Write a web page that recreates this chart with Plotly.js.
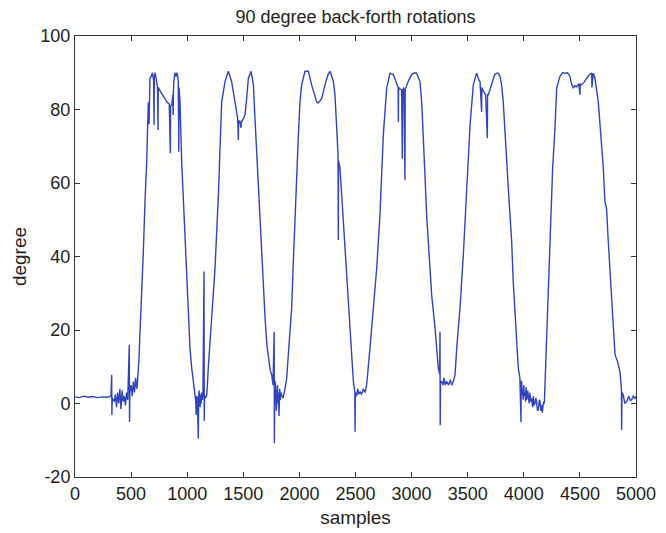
<!DOCTYPE html>
<html>
<head>
<meta charset="utf-8">
<script src="https://cdn.plot.ly/plotly-3.0.1.min.js"></script>
<style>
html,body{margin:0;padding:0;background:#fff;}
#chart{width:666px;height:533px;}
</style>
</head>
<body>
<div id="chart"></div>
<script>
var chartTitle = "90 degree back-forth rotations";
var xLabel = "samples";
var yLabel = "degree";
var xTicks = [0, 500, 1000, 1500, 2000, 2500, 3000, 3500, 4000, 4500, 5000];
var yTicks = [-20, 0, 20, 40, 60, 80, 100];

var samples = [
0,40,80,120,160,200,240,280,320,327,329,332,350,360,370,380,390,400,410,420,430,440,450,460,470,484,486,489,
500,510,520,530,540,550,555,570,580,594,609,624,632,639,647,654,660,662,668,680,690,700,705,707,715,725,735,740,742,
760,780,800,820,840,850,852,862,872,875,877,882,890,900,910,920,925,928,936,951,966,980,995,1010,1025,1040,1055,1065,
1075,1080,1083,1090,1099,1102,1106,1110,1115,1120,1125,1130,1135,1140,1150,1152,1155,1165,1175,1188,1200,1218,1248,1278,1307,
1337,1367,1396,1426,1450,1456,1458,1470,1480,1482,1486,1500,1515,1530,1545,1569,1590,1604,1619,1634,1649,1664,1679,1694,1710,1723,1740,1753,1765,1775,1777,
1780,1785,1790,1795,1800,1805,1810,1814,1818,1820,1825,1830,1836,1842,1855,1872,1887,1901,1931,1946,1961,1976,1991,2005,2020,2050,2080,2109,2139,2155,2169,2185,2199,2228,2255,2273,2290,2303,2317,2332,2344,2347,2349,2362,2392,2421,2451,2466,2481,2494,2496,2499,2510,2520,2530,2540,2555,2570,2585,2599,2629,2659,2689,2718,2748,2778,2807,2837,2867,2880,2882,2884,2900,2911,2917,2919,2930,2941,2943,2956,2975,3001,3025,3045,3075,3090,3105,3119,3134,3155,3179,3209,3238,3250,3253,3255,3258,3268,3280,3290,3300,3312,3330,3345,3357,3372,3387,3402,3431,3461,3491,3521,3550,3580,3600,3610,3624,3626,3639,3660,3675,3677,3684,3700,3714,3740,3758,3773,3788,3802,3817,3832,3847,3862,3877,3892,3906,3921,3936,3951,3965,3975,3977,
3981,3985,3990,3995,4000,4005,4010,4015,4020,4025,4030,4035,4040,4048,4055,4062,4070,4078,4085,4092,4100,4107,4114,4122,4130,4138,4145,4152,4159,4165,4170,4177,4183,
4195,4209,4224,4239,4257,4278,4293,4322,4345,4367,4390,4411,4425,4441,4455,4471,4490,4501,4503,4515,4540,4560,4585,4605,4607,4620,4634,4664,4679,4694,4709,4723,4738,4753,4768,4783,4798,4813,4836,4857,4870,4872,4875,4887,4900,4917,4935,4950,4961,4975,4991,5000
];
var degrees = [
1.8,1.6,2.0,1.7,1.9,1.6,1.8,1.7,1.9,7.8,-3.1,1.5,0.5,2.5,-1,3,0,4,-1.5,3.5,0.5,2,-0.5,3,1,15.9,-5,3,
5,2,6,3,7,4,5,12,20,29.5,41.3,55,60,65.8,75,82,76,84,88.5,89,90,88,75.8,89,90,88,86,74.4,86,
85,84,83,82,81.5,68.1,81,81.2,84,78.5,85,88,90,89,90,88,68.5,86,82,65.8,55,44,33.1,25,15,9.7,5.9,3,
1,-3.1,2,1.5,-9.5,2,3.5,0.5,-1,2.5,0,3,1,2,35.9,-4.7,2,1.5,2.5,9.7,15,23.3,36.9,56.7,82,
87.6,90.4,87.6,82.1,77.5,71.7,77,76.5,75,77,76.6,77.5,78.5,83,88.5,90.4,86.7,77.6,68.5,57.6,49.4,40.4,31.4,23.3,16,12.3,9,7.8,5,19.5,-10.8,
4,6,1,-2,3,5,0,3,-3.4,2.3,4,1,3,2.3,1.5,4.1,6.9,13.2,25.9,38.6,51.3,62.2,73.1,82,86.7,90.4,90.4,86.7,84,82,81.8,82.5,83,86.7,89.5,90.4,89,87.6,84,76.6,68,44.5,66,64,49.4,33.1,20.5,12,6,3.2,-7.7,3,2,4,2.5,3.2,2.5,4,3,5,15,25.9,36.8,51.3,73.1,85.8,89.9,89.5,86.7,86,76.6,86,85.5,85.3,66.6,85,86,60.8,85.5,86.7,88,89.5,90,89.9,87.6,82,73.1,62.2,51.3,40.4,29.5,20.5,9.6,8,19.5,-5.9,6,6,5,7,5,6,5,6.5,5,6,7.8,15,25.9,40.4,58.5,75.8,86.7,89.9,88,87.6,79.3,86,85,84,72.2,84,84,85.5,86.7,89.5,89.9,89.9,89,86.7,82,73.1,66.8,58.5,51.3,44,33.1,25,15.9,9.6,7,-5,6,
6,2,4,1,5,2,3.2,0.5,4.5,1,1.5,3.5,2.3,0,3,0.5,1.4,-1,2,-0.5,0,1.5,0.5,-2,-1.5,1,0.5,-2,-0.4,-2.5,-1,0.5,0,
10.5,23.3,36.9,51.3,64,74.9,85.8,89,90,89.9,90,89,87,85.8,86.5,86.2,87,84,87,86.7,87.5,88.5,89.5,89.9,86,89.9,88.5,82,76.6,70.3,64,54.9,53,44,36.9,27.8,20.5,13.3,11.4,8.6,4.1,-7.2,3,2.3,0,0.5,2,0.8,1,2,1.4,2
];

var font = "Liberation Sans, Arial, Helvetica, sans-serif";
var axisCommon = {
  showgrid: false, zeroline: false, showline: true, mirror: 'ticks',
  linecolor: '#333', linewidth: 1, ticks: 'inside', ticklen: 5, tickcolor: '#333',
  tickfont: {family: font, size: 18, color: '#222'}
};

var trace = {
  x: samples, y: degrees, type: 'scatter', mode: 'lines',
  line: {color: 'rgb(50,68,185)', width: 1.4}, hoverinfo: 'none'
};

var layout = {
  width: 666, height: 533,
  margin: {l: 75, r: 30, t: 36, b: 56},
  paper_bgcolor: '#fff', plot_bgcolor: '#fff',
  showlegend: false,
  title: {text: chartTitle, font: {family: font, size: 18, color: '#222'}, x: 0.5, xref: 'paper', y: 0.968, yref: 'container', yanchor: 'middle'},
  xaxis: Object.assign({}, axisCommon, {range: [0, 5000], tickvals: xTicks, ticktext: xTicks.map(String), title: {text: xLabel, font: {family: font, size: 19, color: '#222'}, standoff: 8}}),
  yaxis: Object.assign({}, axisCommon, {range: [-20, 100], tickvals: yTicks, ticktext: yTicks.map(String), title: {text: yLabel, font: {family: font, size: 19, color: '#222'}, standoff: 8}})
};

Plotly.newPlot('chart', [trace], layout, {displayModeBar: false, staticPlot: true});
</script>
</body>
</html>
